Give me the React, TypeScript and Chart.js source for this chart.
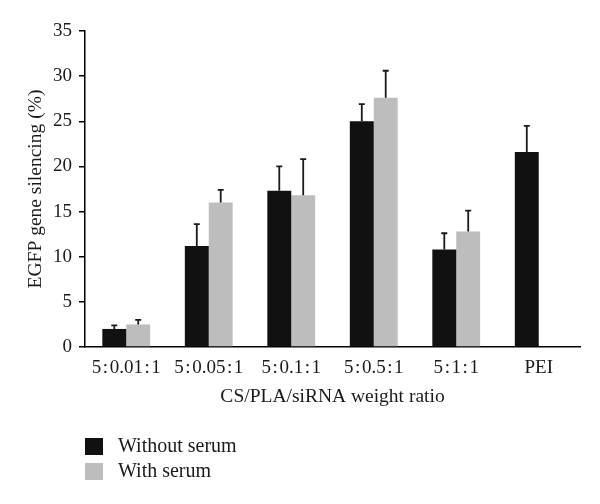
import React, { useEffect, useRef } from "react";
import { Chart, registerables } from "chart.js";

Chart.register(...registerables);

const HS = "\u200A";
const categories = ["5:0.01:1", "5:0.05:1", "5:0.1:1", "5:0.5:1", "5:1:1", "PEI"];
const seriesLabels = ["Without serum", "With serum"];
const withoutSerum = [2.0, 11.2, 17.3, 25.0, 10.8, 21.6];
const withoutSerumErr = [0.4, 2.4, 2.7, 1.9, 1.8, 2.9];
const withSerum: (number | null)[] = [2.5, 16.0, 16.8, 27.6, 12.8, null];
const withSerumErr: (number | null)[] = [0.5, 1.4, 4.0, 3.0, 2.3, null];
const yTicks = [0, 5, 10, 15, 20, 25, 30, 35];

const FONT = "'Liberation Serif', 'Times New Roman', serif";
const TEXT = "#1a1a1a";
const COLORS = ["#111111", "#bdbdbd"];

const errorBarPlugin = {
  id: "errorBars",
  afterDatasetsDraw(chart: any) {
    const { ctx } = chart;
    const y = chart.scales.y;
    chart.data.datasets.forEach((ds: any, di: number) => {
      const meta = chart.getDatasetMeta(di);
      meta.data.forEach((bar: any, i: number) => {
        const v = ds.data[i];
        const e = ds.errors[i];
        if (v == null || e == null) return;
        const top = y.getPixelForValue(v + e);
        const base = y.getPixelForValue(v);
        ctx.save();
        ctx.strokeStyle = "#1a1a1a";
        ctx.lineWidth = 1.8;
        ctx.beginPath();
        ctx.moveTo(bar.x, base);
        ctx.lineTo(bar.x, top);
        ctx.moveTo(bar.x - 3, top);
        ctx.lineTo(bar.x + 3, top);
        ctx.stroke();
        ctx.restore();
      });
    });
  },
};

const legendPlugin = {
  id: "stackLegend",
  afterDraw(chart: any) {
    const { ctx, chartArea } = chart;
    const x0 = chartArea.left;
    const y0 = chartArea.bottom + 91;
    ctx.save();
    ctx.font = `20px ${FONT}`;
    ctx.textBaseline = "middle";
    ctx.textAlign = "left";
    chart.data.datasets.forEach((ds: any, i: number) => {
      const yy = y0 + i * 25;
      ctx.fillStyle = ds.backgroundColor;
      ctx.fillRect(x0, yy, 18, 17);
      ctx.fillStyle = TEXT;
      ctx.fillText(ds.label, x0 + 33, yy + 9);
    });
    ctx.restore();
  },
};

export default function App() {
  const ref = useRef<HTMLCanvasElement>(null);
  useEffect(() => {
    if (!ref.current) return;
    const chart = new Chart(ref.current, {
      type: "bar",
      data: {
        labels: categories.map((c) => c.split(":").join(HS + ":" + HS)),
        datasets: [
          {
            label: seriesLabels[0],
            data: withoutSerum,
            errors: withoutSerumErr,
            backgroundColor: COLORS[0],
            categoryPercentage: 0.58,
            barPercentage: 1,
          } as any,
          {
            label: seriesLabels[1],
            data: withSerum,
            errors: withSerumErr,
            backgroundColor: COLORS[1],
            categoryPercentage: 0.58,
            barPercentage: 1,
          } as any,
        ],
      },
      options: {
        animation: false,
        responsive: true,
        maintainAspectRatio: false,
        layout: { padding: { top: 31, right: 20, left: 0, bottom: 87 } },
        plugins: { legend: { display: false }, tooltip: { enabled: false } },
        scales: {
          x: {
            grid: { display: false, drawTicks: false },
            border: { display: true, color: "#000", width: 1.5 },
            ticks: { color: TEXT, font: { family: FONT, size: 19 }, padding: 10, maxRotation: 0 },
            title: {
              display: true,
              text: "CS/PLA/siRNA weight ratio",
              color: TEXT,
              font: { family: FONT, size: 19.5 },
              padding: { top: 0, bottom: 8 },
            },
            afterFit: (s: any) => {
              s.height = 70;
            },
          },
          y: {
            min: 0,
            max: 35,
            afterBuildTicks: (s: any) => {
              s.ticks = yTicks.map((v) => ({ value: v }));
            },
            grid: { drawOnChartArea: false, drawTicks: true, tickLength: 6, color: "#000", lineWidth: 1.5 },
            border: { display: true, color: "#000", width: 1.5 },
            ticks: { color: TEXT, font: { family: FONT, size: 19 }, padding: 7 },
            title: {
              display: true,
              text: "EGFP gene silencing (%)",
              color: TEXT,
              font: { family: FONT, size: 19.5 },
              padding: { top: 24, bottom: 0 },
            },
            afterFit: (s: any) => {
              s.width = 85;
            },
          },
        },
      },
      plugins: [errorBarPlugin, legendPlugin],
    });
    return () => chart.destroy();
  }, []);
  return (
    <div style={{ position: "fixed", left: 0, top: 0, width: 600, height: 504, background: "#fff" }}>
      <canvas ref={ref} />
    </div>
  );
}
